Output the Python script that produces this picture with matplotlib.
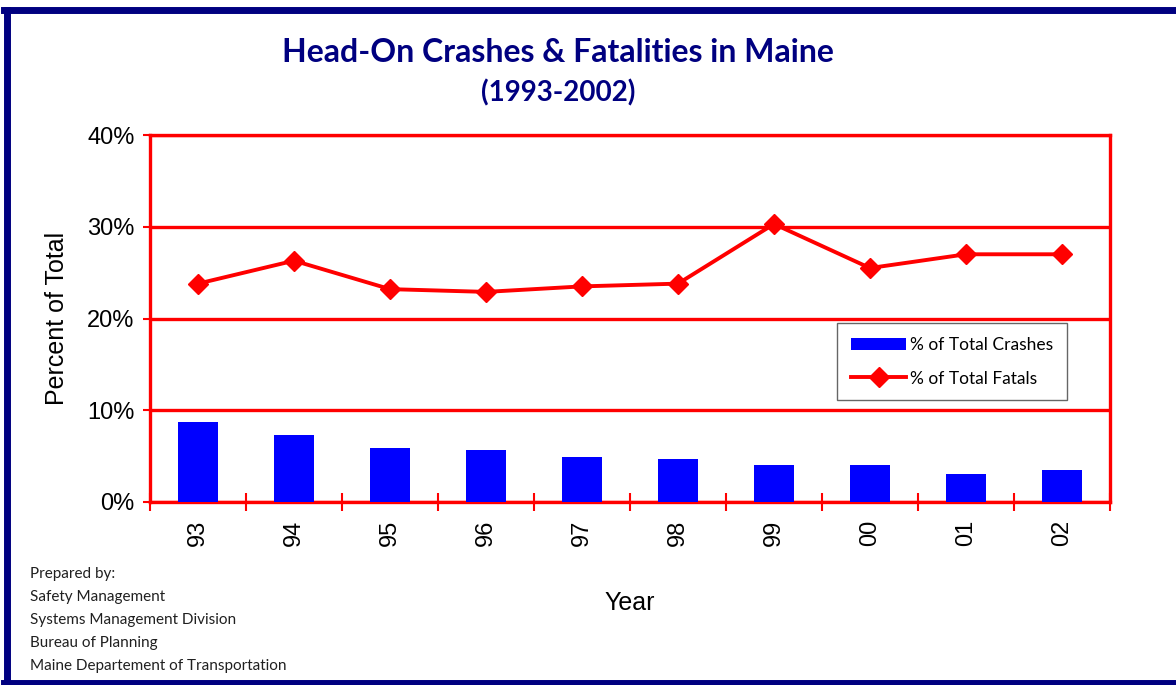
#!/usr/bin/env python3
import numpy as np
import matplotlib
matplotlib.use('Agg')
import matplotlib.pyplot as plt
from matplotlib.lines import Line2D

# —— data
years = ['93', '94', '95', '96', '97', '98', '99', '00', '01', '02']
crash_pct = [8.7, 7.3, 5.9, 5.7, 4.9, 4.7, 4.0, 4.0, 3.0, 3.5]
fatal_pct = [23.8, 26.3, 23.2, 22.9, 23.5, 23.8, 30.3, 25.5, 27.0, 27.0]
footnote = ['Prepared by:', 'Safety Management', 'Systems Management Division',
            'Bureau of Planning', 'Maine Departement of Transportation']

RED = '#FF0000'
BLUE = '#0000FF'
NAVY = '#000080'
narrow = 'Lato'

plt.rcParams['font.family'] = ['Liberation Sans', 'DejaVu Sans']

fig = plt.figure(figsize=(11.76, 6.85), dpi=100)
ax = fig.add_axes([150/1176, 1 - 502/685, 960/1176, 367/685])

x = np.arange(len(years))
bars = ax.bar(x, crash_pct, width=0.42, color=BLUE, zorder=3)
line, = ax.plot(x, fatal_pct, color=RED, lw=2.8, marker='D', markersize=10.5,
                markeredgecolor=RED, zorder=4)

ax.set_xlim(-0.5, len(years) - 0.5)
ax.set_ylim(0, 40)
ax.set_yticks([0, 10, 20, 30, 40])
ax.set_yticklabels([f'{v}%' for v in [0, 10, 20, 30, 40]], fontsize=17)
ax.yaxis.grid(True, color=RED, lw=2.4, zorder=1)
ax.set_axisbelow(True)

ax.set_xticks(np.arange(len(years) + 1) - 0.5)
ax.set_xticklabels([])
ax.set_xticks(x, minor=True)
ax.set_xticklabels(years, minor=True, rotation=90, fontsize=17)
ax.tick_params(axis='x', which='major', direction='inout', length=13, width=1.5, color=RED)
ax.tick_params(axis='x', which='minor', length=0, pad=13)
ax.tick_params(axis='y', direction='out', length=5, width=1.5, color=RED, pad=6)

for sp in ax.spines.values():
    sp.set_color(RED)
    sp.set_linewidth(2.4)

ax.set_ylabel('Percent of Total', fontsize=18, labelpad=13)
ax.set_xlabel('Year', fontsize=18, labelpad=32)

leg = ax.legend([bars, line], ['% of Total Crashes', '% of Total Fatals'],
                loc='upper left', bbox_to_anchor=(0.7156, 0.487),
                frameon=True, fancybox=False, edgecolor='#404040',
                handlelength=3.2, handletextpad=0.2, borderpad=0.8,
                labelspacing=1.0, borderaxespad=0,
                prop={'family': narrow, 'size': 12.5})
leg.get_frame().set_linewidth(1.0)

fig.text(558/1176, 1 - 53/685, 'Head-On Crashes & Fatalities in Maine', ha='center',
         va='center', fontsize=23, fontweight='bold', color=NAVY, family=narrow)
fig.text(558/1176, 1 - 93/685, '(1993-2002)', ha='center', va='center',
         fontsize=20, fontweight='bold', color=NAVY, family=narrow)

for i, txt in enumerate(footnote):
    fig.text(30/1176, 1 - (574 + i*23)/685, txt, ha='left', va='center',
             fontsize=11, family=narrow, color='#202020')

# —— navy frame around the figure
fig.add_artist(Line2D([6.5/1176, 6.5/1176], [0, 1 - 9.5/685], color=NAVY, lw=5,
                      transform=fig.transFigure))
fig.add_artist(Line2D([4/1176, 1], [1 - 9.5/685, 1 - 9.5/685], color=NAVY, lw=5,
                      transform=fig.transFigure))
fig.add_artist(Line2D([4/1176, 1], [2/685, 2/685], color=NAVY, lw=5,
                      transform=fig.transFigure))

fig.savefig('out.png', dpi=100)
